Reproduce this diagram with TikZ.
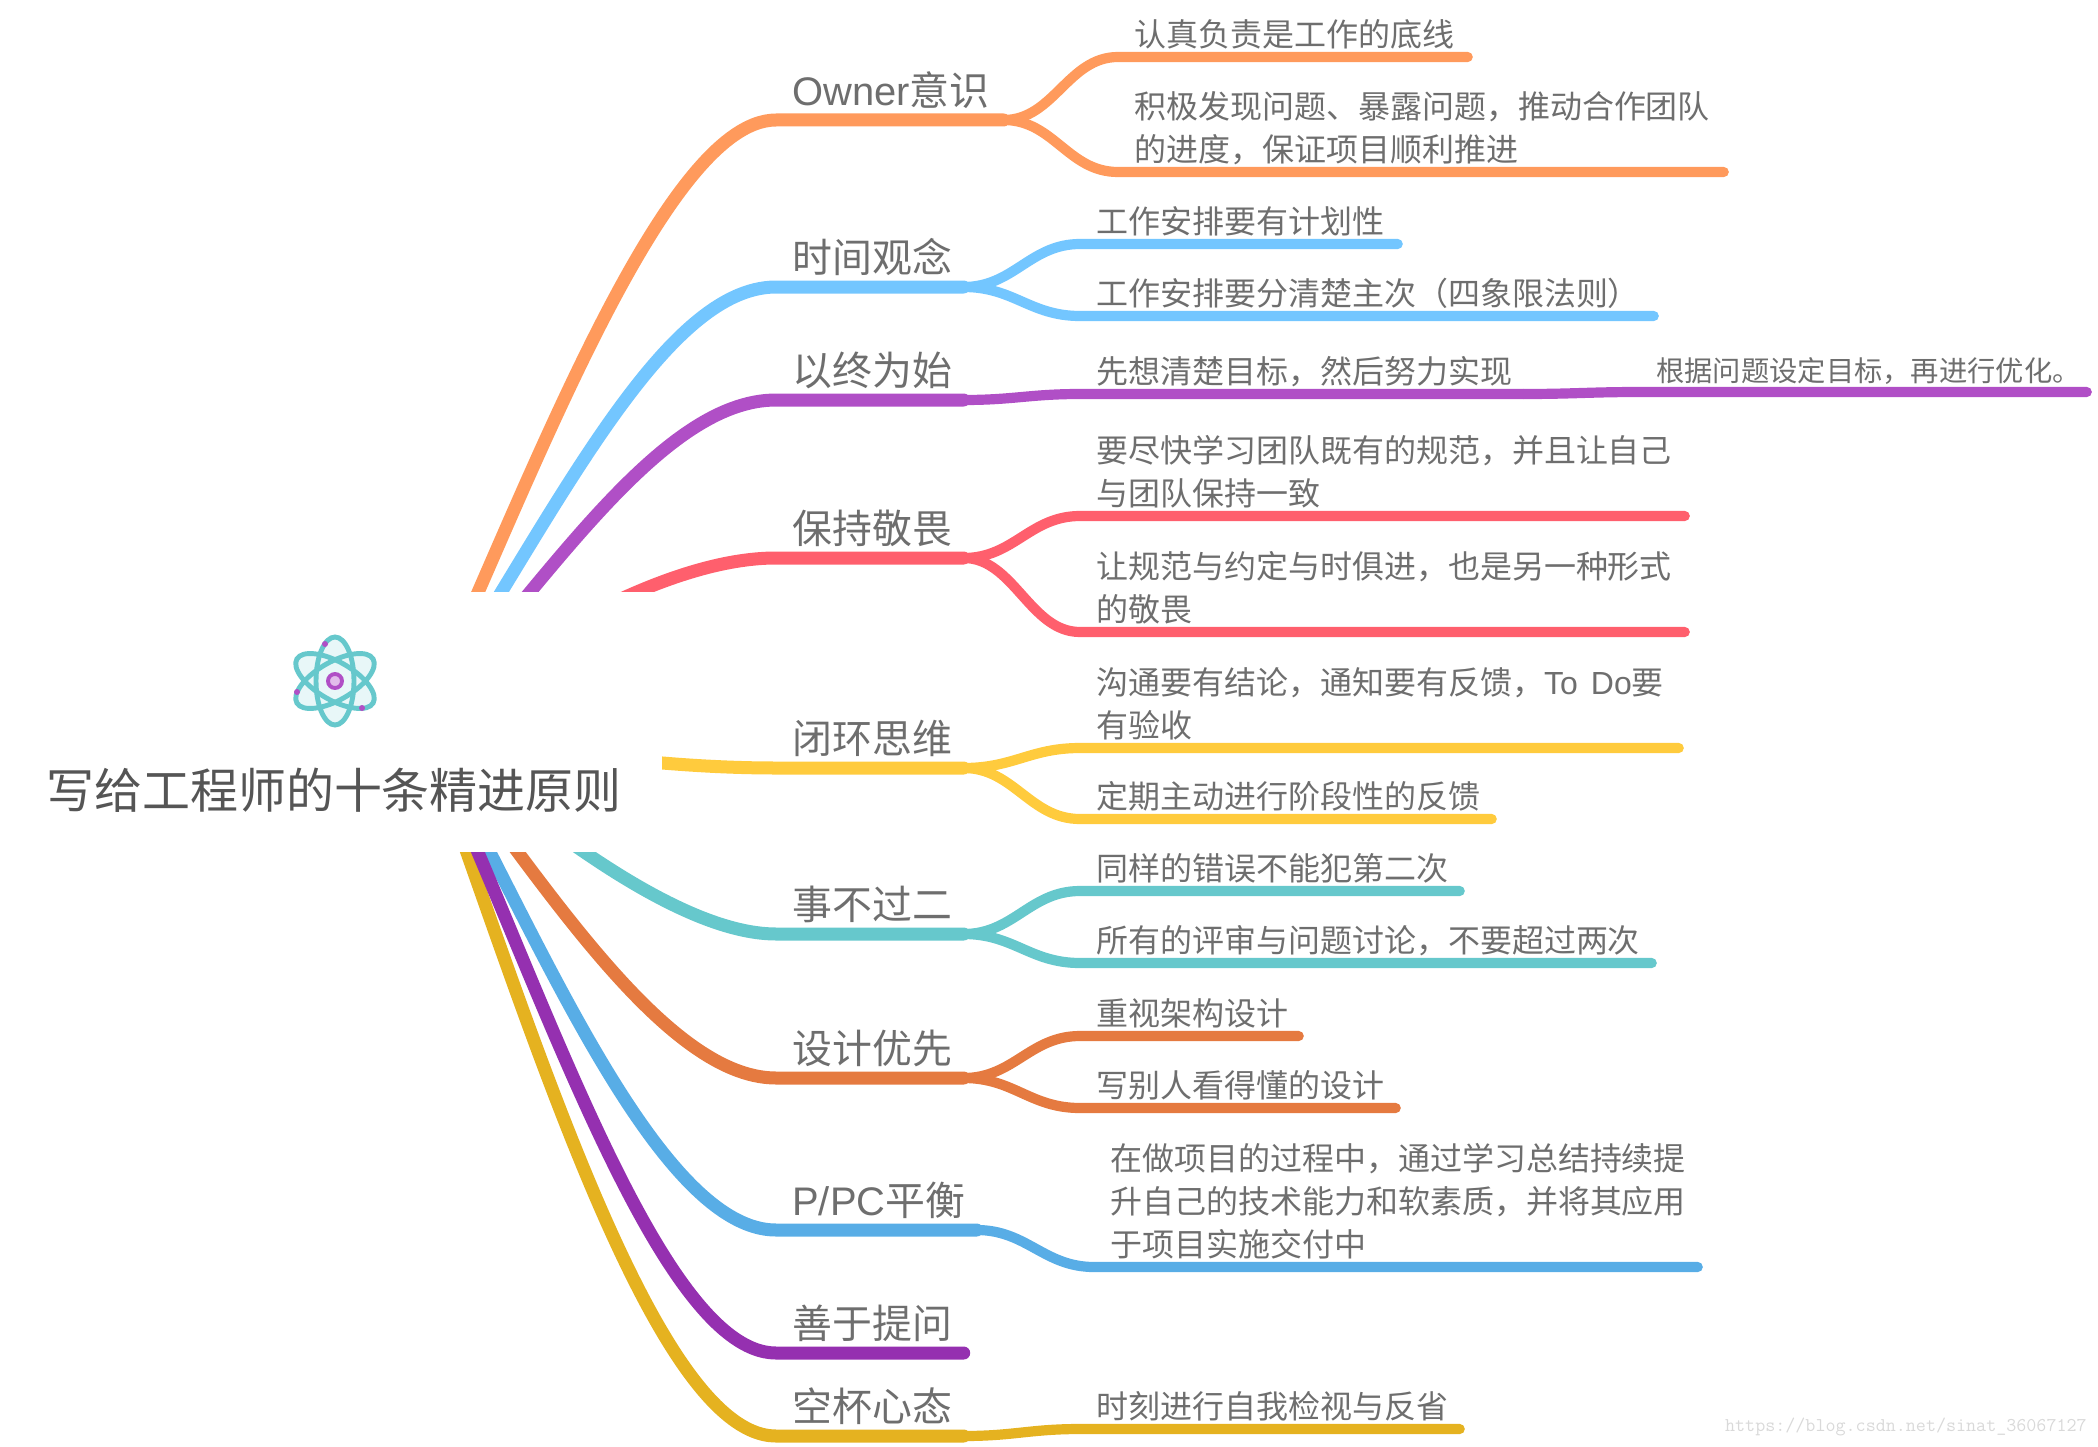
\documentclass[tikz,border=0pt]{standalone}
\usepackage{fontspec}
\usepackage{xcolor}
\usepackage{tikz}
\setmainfont{Noto Sans CJK SC}
\newfontfamily\lat{Liberation Sans}

\definecolor{cOrange}{HTML}{FF9A5C}
\definecolor{cSky}{HTML}{73C6FF}
\definecolor{cViolet}{HTML}{B04FC6}
\definecolor{cRed}{HTML}{FF5F6D}
\definecolor{cYellow}{HTML}{FFCB3D}
\definecolor{cTeal}{HTML}{66C8CC}
\definecolor{cRust}{HTML}{E57A40}
\definecolor{cBlue}{HTML}{58ADE6}
\definecolor{cPurple}{HTML}{9530B0}
\definecolor{cGold}{HTML}{E5B220}
\definecolor{cText}{HTML}{6E6E6E}
\definecolor{cTitle}{HTML}{555555}
\definecolor{cPale}{HTML}{E8F7F8}
\definecolor{cPaleV}{HTML}{E2BCEB}

\tikzset{
	lbl/.style={anchor=south west,align=left,inner xsep=9.1pt,text depth=0pt,text=cText},
	mainlbl/.style={lbl,inner ysep=7.9pt,font=\fontsize{22.7}{28}\selectfont,text width={#1*0.5692pt-18.2pt}},
	leaflbl/.style={lbl,inner ysep=5.6pt,font=\fontsize{18.2}{24.5}\selectfont,text width={#1*0.5692pt-18.2pt}},
	sublbl/.style={lbl,inner ysep=6pt,font=\fontsize{16.1}{20}\selectfont,text width={#1*0.5692pt-18.2pt}},
	twolines/.style={text depth=24.5pt},
	threelines/.style={text depth=49pt},
	mainline/.style={line width=7.4pt,line cap=round},
	leafline/.style={line width=5.8pt,line cap=round},
	orbit/.style={line width=2.8pt,draw=cTeal}
}

\begin{document}
\begin{tikzpicture}[x=0.02cm,y=-0.02cm]
	\useasboundingbox (0,0) rectangle (2098,1446);
	\coordinate (hub) at (420,722);

	\node[mainlbl=227] (owner) at (776,120) {{\lat Owner}意识};
	\node[leaflbl=349] (owner1) at (1118,57) {认真负责是工作的底线};
	\node[leaflbl=605,twolines] (owner2) at (1118,172) {积极发现问题、暴露问题，推动合作团队\\的进度，保证项目顺利推进};
	\draw[mainline,cOrange] (hub) .. controls (520,510) and (660,120) .. (owner.south west) -- (owner.south east);
	\draw[leafline,cOrange] (owner.south east) .. controls +(50,0) and +(-50,0) .. (owner1.south west) -- (owner1.south east);
	\draw[leafline,cOrange] (owner.south east) .. controls +(50,0) and +(-50,0) .. (owner2.south west) -- (owner2.south east);

	\node[mainlbl=187] (time) at (776,287) {时间观念};
	\node[leaflbl=317] (time1) at (1080,244) {工作安排要有计划性};
	\node[leaflbl=573] (time2) at (1080,316) {工作安排要分清楚主次（四象限法则）};
	\draw[mainline,cSky] (hub) .. controls (550,525) and (660,287) .. (time.south west) -- (time.south east);
	\draw[leafline,cSky] (time.south east) .. controls +(50,0) and +(-50,0) .. (time1.south west) -- (time1.south east);
	\draw[leafline,cSky] (time.south east) .. controls +(50,0) and +(-50,0) .. (time2.south west) -- (time2.south east);

	\node[mainlbl=187] (goal) at (776,400) {以终为始};
	\node[leaflbl=443] (goal1) at (1080,394) {先想清楚目标，然后努力实现};
	\node[sublbl=446] (goal2) at (1640,392) {根据问题设定目标，再进行优化。};
	\draw[mainline,cViolet] (hub) .. controls (545,585) and (660,400) .. (goal.south west) -- (goal.south east);
	\draw[leafline,cViolet] (goal.south east) .. controls +(50,0) and +(-50,0) .. (goal1.south west) -- (goal1.south east);
	\draw[leafline,cViolet] (goal1.south east) .. controls +(50,0) and +(-50,0) .. (goal2.south west) -- (goal2.south east);

	\node[mainlbl=187] (awe) at (776,558) {保持敬畏};
	\node[leaflbl=604,twolines] (awe1) at (1080,516) {要尽快学习团队既有的规范，并且让自己\\与团队保持一致};
	\node[leaflbl=604,twolines] (awe2) at (1080,632) {让规范与约定与时俱进，也是另一种形式\\的敬畏};
	\draw[mainline,cRed] (hub) .. controls (530,640) and (670,558) .. (awe.south west) -- (awe.south east);
	\draw[leafline,cRed] (awe.south east) .. controls +(50,0) and +(-50,0) .. (awe1.south west) -- (awe1.south east);
	\draw[leafline,cRed] (awe.south east) .. controls +(50,0) and +(-50,0) .. (awe2.south west) -- (awe2.south east);

	\node[mainlbl=187] (loop) at (776,768) {闭环思维};
	\node[leaflbl=598,twolines] (loop1) at (1080,748) {沟通要有结论，通知要有反馈，\mbox{\lat To\hspace{7.5pt}Do}要\\有验收};
	\node[leaflbl=411] (loop2) at (1080,819) {定期主动进行阶段性的反馈};
	\draw[mainline,cYellow] (hub) .. controls (520,750) and (660,768) .. (loop.south west) -- (loop.south east);
	\draw[leafline,cYellow] (loop.south east) .. controls +(50,0) and +(-50,0) .. (loop1.south west) -- (loop1.south east);
	\draw[leafline,cYellow] (loop.south east) .. controls +(50,0) and +(-50,0) .. (loop2.south west) -- (loop2.south east);

	\node[mainlbl=187] (twice) at (776,934) {事不过二};
	\node[leaflbl=379] (twice1) at (1080,891) {同样的错误不能犯第二次};
	\node[leaflbl=571] (twice2) at (1080,963) {所有的评审与问题讨论，不要超过两次};
	\draw[mainline,cTeal] (hub) .. controls (510,800) and (670,934) .. (twice.south west) -- (twice.south east);
	\draw[leafline,cTeal] (twice.south east) .. controls +(50,0) and +(-50,0) .. (twice1.south west) -- (twice1.south east);
	\draw[leafline,cTeal] (twice.south east) .. controls +(50,0) and +(-50,0) .. (twice2.south west) -- (twice2.south east);

	\node[mainlbl=187] (design) at (776,1078) {设计优先};
	\node[leaflbl=218] (design1) at (1080,1036) {重视架构设计};
	\node[leaflbl=315] (design2) at (1080,1108) {写别人看得懂的设计};
	\draw[mainline,cRust] (hub) .. controls (530,860) and (660,1078) .. (design.south west) -- (design.south east);
	\draw[leafline,cRust] (design.south east) .. controls +(50,0) and +(-50,0) .. (design1.south west) -- (design1.south east);
	\draw[leafline,cRust] (design.south east) .. controls +(50,0) and +(-50,0) .. (design2.south west) -- (design2.south east);

	\node[mainlbl=200] (ppc) at (776,1230) {{\lat P/PC}平衡};
	\node[leaflbl=603,threelines] (ppc1) at (1094,1267) {在做项目的过程中，通过学习总结持续提\\升自己的技术能力和软素质，并将其应用\\于项目实施交付中};
	\draw[mainline,cBlue] (hub) .. controls (520,890) and (650,1230) .. (ppc.south west) -- (ppc.south east);
	\draw[leafline,cBlue] (ppc.south east) .. controls +(50,0) and +(-50,0) .. (ppc1.south west) -- (ppc1.south east);

	\node[mainlbl=187] (empty) at (776,1436) {空杯心态};
	\node[leaflbl=379] (empty1) at (1080,1429) {时刻进行自我检视与反省};
	\draw[mainline,cGold] (hub) .. controls (520,990) and (650,1436) .. (empty.south west) -- (empty.south east);
	\draw[leafline,cGold] (empty.south east) .. controls +(50,0) and +(-50,0) .. (empty1.south west) -- (empty1.south east);

	\node[mainlbl=187] (ask) at (776,1353) {善于提问};
	\draw[mainline,cPurple] (hub) .. controls (530,950) and (655,1353) .. (ask.south west) -- (ask.south east);

	% white patch in the middle
	\node[fill=white,minimum width=371pt,minimum height=148pt,inner sep=0pt] (root) at (336,722) {};
	\node[text=cTitle,font=\fontsize{27.3}{32}\selectfont,inner sep=0pt] (title) at (334,790) {写给工程师的十条精进原则};

	% atom icon
	\foreach \a in {0,60,-60}
		\fill[cPale,rotate around={\a:(335,681)}] (335,681) ellipse (19 and 44);
	\foreach \a in {0,60,-60}
		\draw[orbit,rotate around={\a:(335,681)}] (335,681) ellipse (19 and 44);
	\draw[line width=2.2pt,draw=cViolet,fill=cPaleV] (335,681) circle (7);
	\fill[cViolet] (325,644) circle (3);
	\fill[cViolet] (297,692) circle (3);
	\fill[cViolet] (362,708) circle (3);

	\node[anchor=east,inner sep=0pt,text=black!15,font=\ttfamily\fontsize{11.1}{14}\selectfont] (mark) at (2087,1427) {https://blog.csdn.net/sinat\_36067127};
\end{tikzpicture}
\end{document}
